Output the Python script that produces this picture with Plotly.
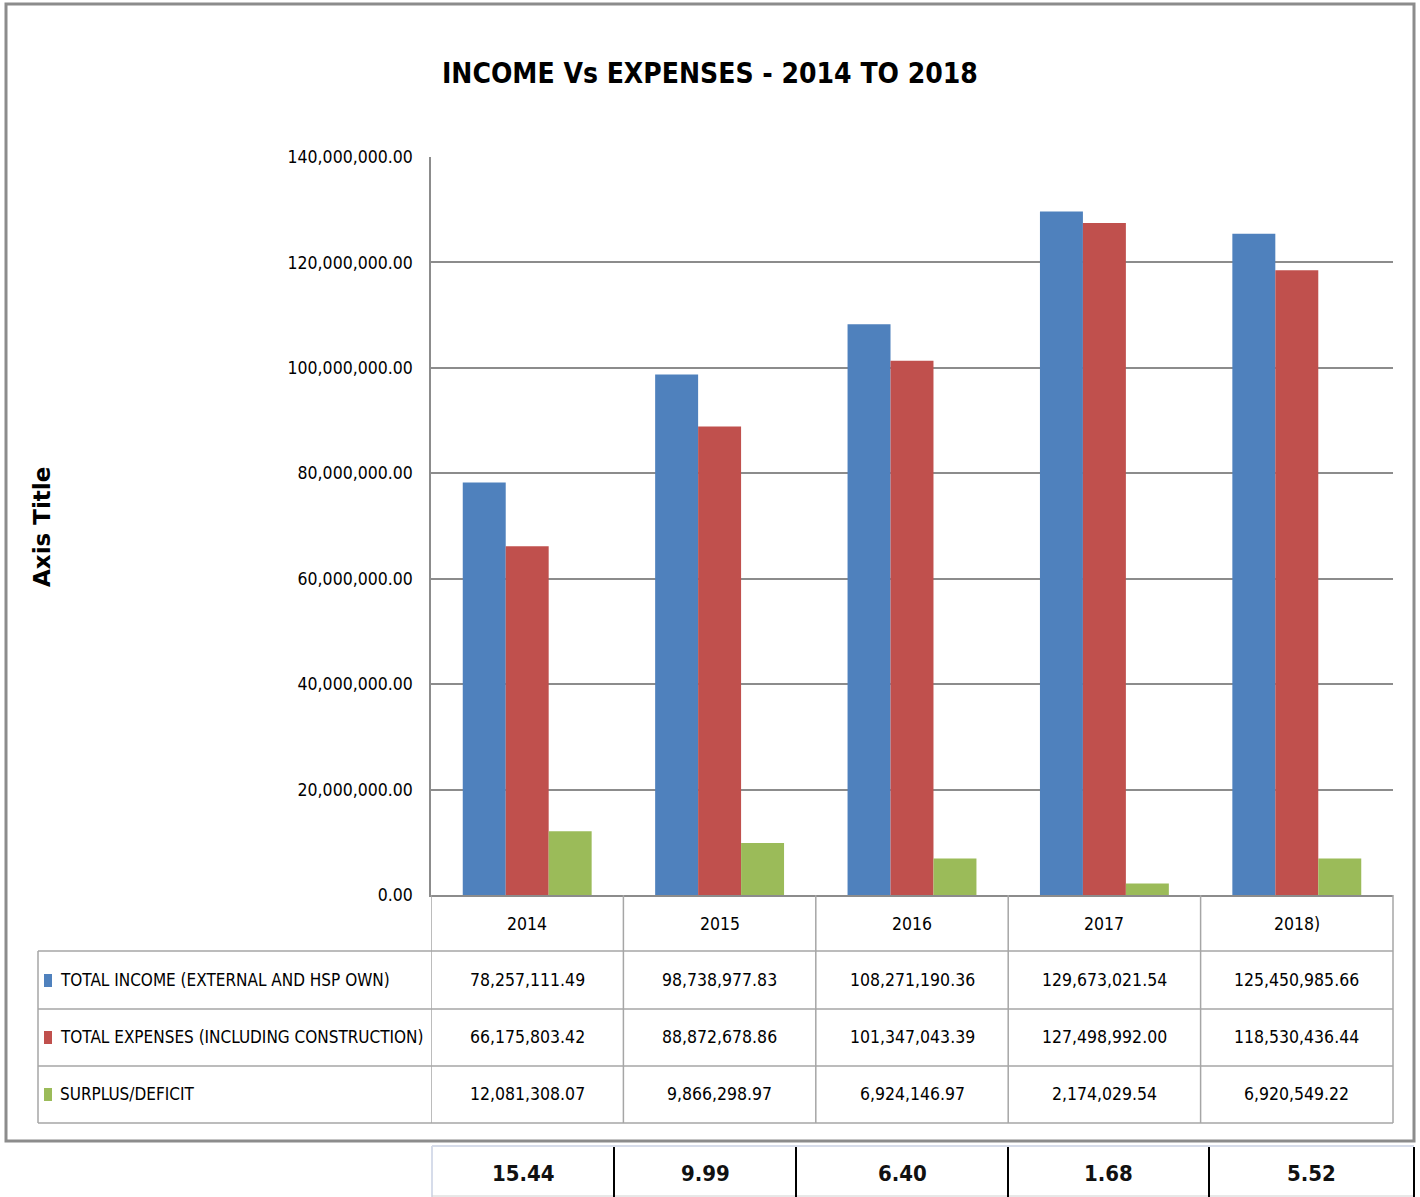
import plotly.graph_objects as go

# ---------------- data ----------------
years = ["2014", "2015", "2016", "2017", "2018)"]
series_names = [
    "TOTAL INCOME (EXTERNAL AND HSP OWN)",
    "TOTAL EXPENSES (INCLUDING CONSTRUCTION)",
    "SURPLUS/DEFICIT",
]
income = [78257111.49, 98738977.83, 108271190.36, 129673021.54, 125450985.66]
expenses = [66175803.42, 88872678.86, 101347043.39, 127498992.00, 118530436.44]
surplus = [12081308.07, 9866298.97, 6924146.97, 2174029.54, 6920549.22]
ratio_labels = ["15.44", "9.99", "6.40", "1.68", "5.52"]
title_text = "INCOME Vs EXPENSES - 2014 TO 2018"
y_axis_title = "Axis Title"

# ---------------- styles ----------------
W, H = 1420, 1197
colors = ["#4F81BD", "#C0504D", "#9BBB59"]
NARROW = "DejaVu Sans Condensed, Liberation Sans Narrow, sans-serif"
GRID = "#8c8c8c"
TABLE_LINE = "#a6a6a6"
TXT = 17.5


def px(x):
    return x / W


def py(y):
    return 1 - y / H


series_values = [income, expenses, surplus]

fig = go.Figure()
for name, vals, col in zip(series_names, series_values, colors):
    fig.add_trace(go.Bar(x=years, y=vals, name=name, marker=dict(color=col, line=dict(width=0)),
                         hoverinfo="x+y+name"))

shapes = []
annotations = []

# title
annotations.append(dict(text="<b>" + title_text + "</b>", x=px(710), y=py(73), xref="paper", yref="paper",
                        showarrow=False, xanchor="center", yanchor="middle",
                        font=dict(family=NARROW, size=28, color="#000000")))
# axis title
annotations.append(dict(text="<b>" + y_axis_title + "</b>", x=px(42), y=py(527), xref="paper", yref="paper",
                        showarrow=False, textangle=-90, xanchor="center", yanchor="middle",
                        font=dict(family="DejaVu Sans, sans-serif", size=23, color="#000000")))

# table geometry (pixel rows)
row_lines = [951, 1009, 1066, 1123]
header_mid = 924
row_mids = [980, 1037, 1094]
table_left = 38
table_right = 1393

for yl in row_lines:
    shapes.append(dict(type="line", xref="paper", yref="paper", x0=px(table_left), x1=px(table_right),
                       y0=py(yl), y1=py(yl), line=dict(color=TABLE_LINE, width=1.5)))
shapes.append(dict(type="line", xref="paper", yref="paper", x0=px(table_left), x1=px(table_left),
                   y0=py(951), y1=py(1123), line=dict(color=TABLE_LINE, width=1.5)))
shapes.append(dict(type="line", xref="paper", yref="paper", x0=px(table_right), x1=px(table_right),
                   y0=py(895), y1=py(1123), line=dict(color=TABLE_LINE, width=1.5)))
for i in range(len(years)):
    shapes.append(dict(type="line", xref="x", yref="paper", x0=i - 0.5, x1=i - 0.5,
                       y0=py(895), y1=py(1123), line=dict(color=TABLE_LINE, width=1.5)))

# header row (years) - positioned on the category axis by index
for i, yr in enumerate(years):
    annotations.append(dict(text=yr, x=i, y=py(header_mid), xref="x", yref="paper", showarrow=False,
                            xanchor="center", yanchor="middle",
                            font=dict(family=NARROW, size=TXT, color="#000000")))
# data rows
for r, (name, vals, col) in enumerate(zip(series_names, series_values, colors)):
    ym = row_mids[r]
    shapes.append(dict(type="rect", xref="paper", yref="paper", x0=px(44), x1=px(52),
                       y0=py(ym + 7), y1=py(ym - 6), fillcolor=col, line=dict(width=0)))
    annotations.append(dict(text=name, x=px(58), y=py(ym), xref="paper", yref="paper", showarrow=False,
                            xanchor="left", yanchor="middle",
                            font=dict(family=NARROW, size=17, color="#000000")))
    for i, v in enumerate(vals):
        annotations.append(dict(text=f"{v:,.2f}", x=i, y=py(ym), xref="x", yref="paper", showarrow=False,
                                xanchor="center", yanchor="middle",
                                font=dict(family=NARROW, size=TXT, color="#000000")))

# outer chart border
shapes.append(dict(type="rect", xref="paper", yref="paper", x0=px(6), x1=px(1414), y0=py(1141), y1=py(4),
                   line=dict(color="#8c8c8c", width=3), fillcolor="rgba(0,0,0,0)"))

# bottom ratio row (outside the chart)
bounds = [432, 614, 796, 1008, 1209, 1414]
shapes.append(dict(type="line", xref="paper", yref="paper", x0=px(432), x1=px(1414), y0=py(1146), y1=py(1146),
                   line=dict(color="#d6dcea", width=2)))
shapes.append(dict(type="line", xref="paper", yref="paper", x0=px(432), x1=px(432), y0=py(1146), y1=py(1197),
                   line=dict(color="#d6dcea", width=2)))
shapes.append(dict(type="line", xref="paper", yref="paper", x0=px(432), x1=px(1414), y0=py(1196), y1=py(1196),
                   line=dict(color="#d0d0d0", width=1)))
for b in bounds[1:]:
    shapes.append(dict(type="line", xref="paper", yref="paper", x0=px(b), x1=px(b), y0=py(1147), y1=py(1197),
                       line=dict(color="#000000", width=2)))
for i, lab in enumerate(ratio_labels):
    cx = (bounds[i] + bounds[i + 1]) / 2
    annotations.append(dict(text="<b>" + lab + "</b>", x=px(cx), y=py(1173), xref="paper", yref="paper",
                            showarrow=False, xanchor="center", yanchor="middle",
                            font=dict(family=NARROW, size=22, color="#111111")))

fig.update_layout(
    width=W, height=H,
    margin=dict(l=0, r=0, t=0, b=0, autoexpand=False),
    paper_bgcolor="white", plot_bgcolor="white",
    barmode="group", bargap=0.33, bargroupgap=0,
    showlegend=False,
    shapes=shapes, annotations=annotations,
    xaxis=dict(type="category", domain=[px(431), px(1393)], range=[-0.5, len(years) - 0.5],
               showticklabels=False, showline=True, linecolor=GRID, linewidth=1.5, showgrid=False,
               zeroline=False, fixedrange=True),
    yaxis=dict(domain=[py(895), py(157)], range=[0, 140000000], dtick=20000000, tickformat=",.2f",
               showgrid=True, gridcolor=GRID, gridwidth=1.5, showline=True, linecolor=GRID, linewidth=1.5,
               zeroline=False, ticks="", ticklabelstandoff=13, automargin=False,
               tickfont=dict(family=NARROW, size=TXT, color="#000000")),
)

fig.write_html("out.html",
               config={"displayModeBar": False},
               post_script="document.body.style.margin='0';document.body.style.overflow='hidden';")
